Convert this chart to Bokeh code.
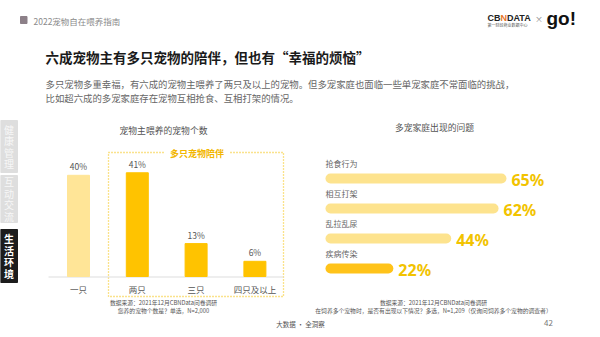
from bokeh.plotting import figure
from bokeh.models import Range1d, ColumnDataSource
from bokeh.core.properties import value
from bokeh.embed import file_html
from bokeh.resources import INLINE

# ---------------- data ----------------
pet_counts = ["一只", "两只", "三只", "四只及以上"]
pet_share = [40, 41, 13, 6]

issues = ["抢食行为", "相互打架", "乱拉乱尿", "疾病传染"]
issue_share = [65, 62, 44, 22]

side_tabs = ["健康管理", "互动交流", "生活环境"]

# ---------------- styles ----------------
FONT = value("Noto Sans CJK SC")
LIGHT = "#FFE597"
GOLD = "#FFC300"
R_LIGHT = "#FDE38E"
R_GOLD = "#FFC31A"
TXT_GOLD = "#F2C300"

W, H = 600, 337
p = figure(width=W, height=H, x_range=Range1d(0, W), y_range=Range1d(H, 0),
           output_backend="svg", toolbar_location=None, min_border=0,
           x_axis_type=None, y_axis_type=None)
p.grid.visible = False
p.outline_line_color = None
p.background_fill_color = "white"
p.border_fill_color = "white"

# scales for the two charts (mapped onto the page frame)
LX0, LSTEP = 78.0, 58.8          # left chart category positions
LY0, LPX = 276.0, 2.53           # left chart value scale (px per %)
RX0, RPX = 330.0, 2.63           # right chart value scale
RY0, RSTEP = 178.0, 30.0         # right chart row positions
p.extra_x_ranges = {
    "lx": Range1d(-LX0 / LSTEP, (W - LX0) / LSTEP),
    "rx": Range1d(-RX0 / RPX, (W - RX0) / RPX),
}
p.extra_y_ranges = {
    "ly": Range1d(-(H - LY0) / LPX, LY0 / LPX),
    "ry": Range1d((H - RY0) / RSTEP, -RY0 / RSTEP),
}

def txt(x, y, t, size, color, align="left", bold=False, baseline="middle", font=FONT):
    p.text(x=[x], y=[y], text=[t], text_font=font, text_font_size=f"{size}px",
           text_color=color, text_align=align, text_baseline=baseline,
           text_font_style="bold" if bold else "normal")

# ---------------- header ----------------
p.quad(left=[20], right=[26.5], top=[16], bottom=[23], color="#8C8088")
txt(33, 20, "2022宠物自在喂养指南", 8.5, "#8A8A8A")

LOGO = value("Liberation Sans")
txt(487, 17, "CB", 9, "#222222", bold=True, font=LOGO)
txt(500, 17, "N", 9, "#E8742A", bold=True, font=LOGO)
txt(506.5, 17, "DATA", 9, "#222222", bold=True, font=LOGO)
txt(487, 24.5, "第一财经商业数据中心", 4, "#555555")
txt(538.5, 18, "×", 8, "#888888", align="center")
txt(546, 18, "go!", 19, "#111111", bold=True, font=LOGO)

# ---------------- title & intro ----------------
txt(45, 56, "六成宠物主有多只宠物的陪伴，但也有“幸福的烦恼”", 13.5, "#1A1A1A", bold=True)
txt(45, 83, "多只宠物多重幸福，有六成的宠物主喂养了两只及以上的宠物。但多宠家庭也面临一些单宠家庭不常面临的挑战，",
    9.4, "#666666")
txt(45, 97, "比如超六成的多宠家庭存在宠物互相抢食、互相打架的情况。", 9.4, "#666666")

# ---------------- side tabs ----------------
tab_spans = [(120, 172), (175, 222), (229, 282)]
tab_fill = ["#DEDEDE", "#DEDEDE", "#1C1C1C"]
for name, (t0, t1), fc in zip(side_tabs, tab_spans, tab_fill):
    p.quad(left=[0], right=[17], top=[t0], bottom=[t1], color=fc)
    mid = (t0 + t1) / 2
    n = len(name)
    step = 11.5
    ys = [mid + (i - (n - 1) / 2) * step for i in range(n)]
    p.text(x=[8.5] * n, y=ys, text=list(name), text_font=FONT, text_font_size="10px",
           text_color="#F7F7F7" if fc != "#1C1C1C" else "#FFFFFF",
           text_font_style="bold" if fc == "#1C1C1C" else "normal",
           text_align="center", text_baseline="middle")

# ---------------- left chart ----------------
txt(163, 130, "宠物主喂养的宠物个数", 8.8, "#555555", align="center")

# dotted highlight box
box_c = "#F5C518"
p.multi_line(xs=[[108, 163], [230, 283, 283, 108, 108]],
             ys=[[152, 152], [152, 152, 296, 296, 152]],
             line_color=box_c, line_width=1.3, line_dash="1 2")
txt(196.5, 153, "多只宠物陪伴", 9, "#F2B600", align="center", bold=True)

# baseline
p.segment(x0=[48], y0=[LY0 + 0.5], x1=[283], y1=[LY0 + 0.5], line_color="#DDDDDD", line_width=1)

lidx = list(range(len(pet_counts)))
lsrc = ColumnDataSource(dict(
    x=lidx, v=pet_share, cat=pet_counts, zero=[0] * len(pet_counts),
    lab=[f"{v}%" for v in pet_share],
    c=[LIGHT] + [GOLD] * (len(pet_counts) - 1),
))
p.vbar(x="x", top="v", bottom=0, width=22 / LSTEP, color="c", source=lsrc,
       x_range_name="lx", y_range_name="ly")
p.text(x="x", y="v", text="lab", source=lsrc, x_range_name="lx", y_range_name="ly",
       y_offset=-9, text_align="center", text_baseline="middle",
       text_font=FONT, text_font_size="8.5px", text_color="#555555")
p.text(x="x", y="zero", text="cat", source=lsrc, x_range_name="lx", y_range_name="ly",
       y_offset=12, text_align="center", text_baseline="middle",
       text_font=FONT, text_font_size="8.5px", text_color="#555555")

txt(163, 302, "数据来源：2021年12月CBNData问卷调研", 5.8, "#555555", align="center")
txt(163, 309.5, "您养的宠物个数是？单选，N=2,000", 5.8, "#555555", align="center")

# ---------------- right chart ----------------
txt(434, 127, "多宠家庭出现的问题", 8.8, "#555555", align="center")

ridx = list(range(len(issues)))
rsrc = ColumnDataSource(dict(
    y=ridx, v=issue_share, cat=issues, zero=[0] * len(issues),
    lab=[f"{v}%" for v in issue_share],
    c=[R_LIGHT] * (len(issues) - 1) + [R_GOLD],
))
p.segment(x0="zero", y0="y", x1="v", y1="y", line_color="c", line_width=10, line_cap="round",
          source=rsrc, x_range_name="rx", y_range_name="ry")
p.text(x="zero", y="y", text="cat", source=rsrc, x_range_name="rx", y_range_name="ry",
       x_offset=-5, y_offset=-15, text_align="left", text_baseline="middle",
       text_font=FONT, text_font_size="8px", text_color="#666666")
p.text(x="v", y="y", text="lab", source=rsrc, x_range_name="rx", y_range_name="ry",
       x_offset=10, y_offset=1, text_align="left", text_baseline="middle",
       text_font=value("Noto Sans"), text_font_size="16px", text_font_style="bold",
       text_color=TXT_GOLD)

txt(433, 302, "数据来源：2021年12月CBNData问卷调研", 5.8, "#555555", align="center")
txt(433, 310, "在饲养多个宠物时，是否有出现以下情况？多选，N=1,209（仅询问饲养多个宠物的调查者）",
    5.8, "#555555", align="center")

# ---------------- footer ----------------
txt(300, 323, "大数据 · 全洞察", 6.5, "#555555", align="center")
txt(548, 322, "42", 8, "#777777", align="center")

open("out.html", "w").write(file_html(p, INLINE))
